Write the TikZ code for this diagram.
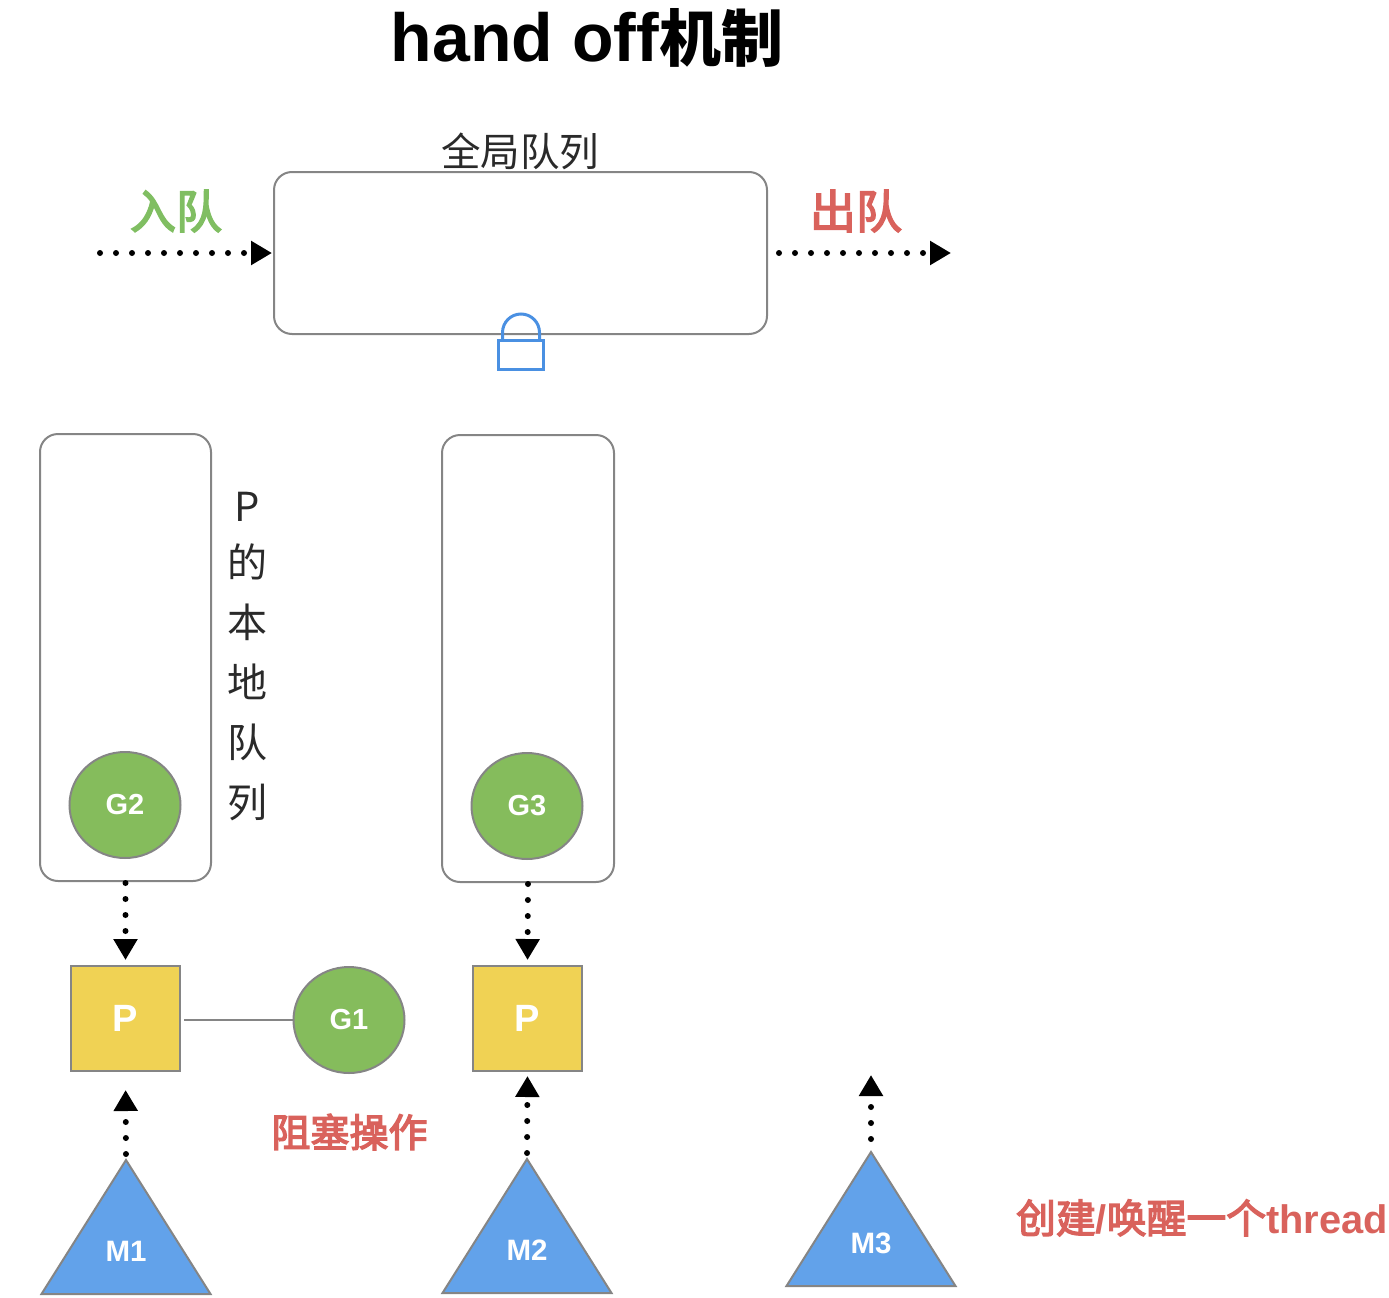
\documentclass[tikz,border=0pt]{standalone}
\usepackage{fontspec}
\setmainfont{Liberation Sans}
\newfontfamily\cjk{Noto Sans CJK SC}
\newfontfamily\cjkmed[FakeBold=3.5]{Noto Sans CJK SC}
\usetikzlibrary{shapes.geometric,arrows.meta}
\definecolor{bordergrey}{HTML}{858585}
\definecolor{gfill}{HTML}{85BC5C}
\definecolor{pfill}{HTML}{F0D254}
\definecolor{mfill}{HTML}{62A2EA}
\definecolor{lockblue}{HTML}{4A90E2}
\definecolor{redtext}{HTML}{D9625C}
\definecolor{greentext}{HTML}{80BE62}
\definecolor{labeltext}{HTML}{2A2A2A}
\tikzset{
  queuebox/.style={draw=bordergrey,line width=2pt,rounded corners=18pt,minimum width=#1,inner sep=0pt,outer sep=0pt},
  gcircle/.style={ellipse,draw=bordergrey,fill=gfill,line width=2pt,minimum width=111pt,minimum height=106pt,inner sep=0pt,outer sep=0pt,text=white,font=\fontsize{29}{29}\selectfont\bfseries},
  pbox/.style={rectangle,draw=bordergrey,fill=pfill,line width=2pt,minimum width=109pt,minimum height=105pt,inner sep=0pt,outer sep=0pt,text=white,font=\fontsize{38}{38}\selectfont\bfseries},
  mtri/.style={isosceles triangle,shape border rotate=90,isosceles triangle stretches,draw=bordergrey,fill=mfill,line width=2pt,minimum width=169pt,minimum height=134pt,inner sep=0pt,outer sep=0pt,anchor=apex},
  mlabel/.style={text=white,inner sep=0pt,font=\fontsize{29.5}{29.5}\selectfont\bfseries},
  dotarrow/.style={line cap=round,line width=6pt,dash pattern=on 0pt off 16pt,-{Triangle[length=21pt,width=23pt,line cap=butt]}},
  redlabel/.style={text=redtext,inner sep=0pt},
}
\begin{document}
\begin{tikzpicture}[x=1pt,y=-1pt]
\useasboundingbox (0,0) rectangle (1389,1298);
% title
\node[inner sep=0pt,text=black] (title) at (587,38) {\fontsize{68}{68}\selectfont\bfseries hand off{\cjk\fontsize{62}{62}\selectfont 机制}};
% global queue
\node[queuebox=493pt,minimum height=162pt] (gq) at (520.5,253) {};
\node[inner sep=0pt,text=labeltext,font=\cjk\fontsize{39.5}{39.5}\selectfont] (gqlabel) at (520,151) {全局队列};
\node[inner sep=0pt,text=greentext,font=\cjkmed\fontsize{46}{46}\selectfont] (inlabel) at (176,211) {入队};
\node[inner sep=0pt,text=redtext,font=\cjkmed\fontsize{46}{46}\selectfont] (outlabel) at (856,211) {出队};
\coordinate (instart) at (100,253);
\coordinate (outend) at (951,253);
\draw[dotarrow,shorten >=2pt] (instart) -- (gq.west);
\draw[dotarrow,shorten <=12pt] (gq.east) -- (outend);
% lock
\node[rectangle,draw=lockblue,fill=white,line width=3pt,minimum width=45pt,minimum height=29pt,inner sep=0pt,outer sep=0pt] (lock) at (521,355) {};
\draw[draw=lockblue,line width=3pt] ([xshift=-18.5pt]lock.north) -- ++(0,-8) arc[start angle=180,end angle=0,x radius=18.5pt,y radius=18.5pt] -- ([xshift=18.5pt]lock.north);
% local queues
\node[queuebox=171pt,minimum height=447pt] (q1) at (125.5,657.5) {};
\node[queuebox=172pt,minimum height=447pt] (q2) at (528,658.5) {};
\node[inner sep=0pt,align=center,text=labeltext,font=\cjk\fontsize{40}{60}\selectfont] (qlabel) at (247,657) {\raisebox{-4pt}{P}\\的\\本\\地\\队\\列};
% goroutines
\node[gcircle] (g2) at (125,805) {G2};
\node[gcircle] (g3) at (527,806) {G3};
\node[gcircle] (g1) at (349,1020) {G1};
% processors
\node[pbox] (p1) at (125.5,1018.5) {P};
\node[pbox] (p2) at (527.5,1018.5) {P};
% threads
\node[mtri] (m1) at (126,1160) {};
\node[mtri] (m2) at (527,1159) {};
\node[mtri] (m3) at (871,1152) {};
\node[mlabel] (m1t) at (126,1251) {M1};
\node[mlabel] (m2t) at (527,1250) {M2};
\node[mlabel] (m3t) at (871,1243) {M3};
\coordinate (m3end) at (871,1075);
% connectors
\draw[dotarrow,dash phase=14pt,shorten >=6pt] (q1.south) -- (p1.north);
\draw[dotarrow,dash phase=14pt,shorten >=6pt] (q2.south) -- (p2.north);
\draw[dotarrow,dash phase=10pt,shorten >=19pt] (m1.apex) -- (p1.south);
\draw[dotarrow,dash phase=10pt,shorten >=5pt] (m2.apex) -- (p2.south);
\draw[dotarrow,dash phase=3pt] (m3.apex) -- (m3end);
\draw[draw=bordergrey,line width=2pt,shorten <=4pt] (p1.east |- g1.west) -- (g1.west);
% labels
\node[redlabel,font=\cjkmed\fontsize{39}{39}\selectfont] (blocklabel) at (349.5,1132) {阻塞操作};
\node[redlabel,anchor=base west] (threadlabel) at (1016,1233) {\cjkmed\fontsize{39.8}{39.8}\selectfont 创建{\rmfamily\bfseries /}唤醒一个{\rmfamily\bfseries thread}};
\end{tikzpicture}
\end{document}
